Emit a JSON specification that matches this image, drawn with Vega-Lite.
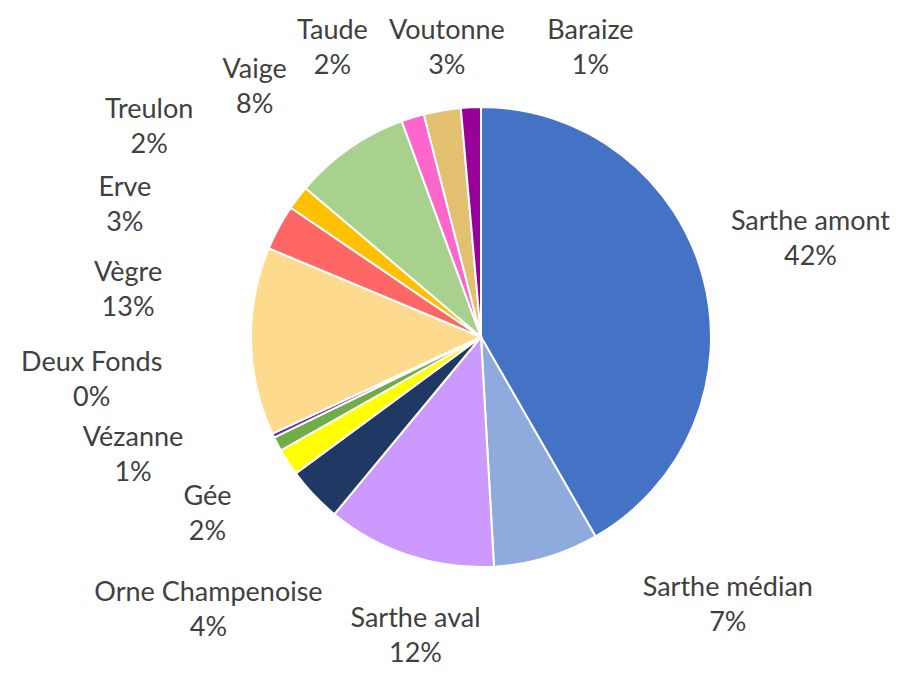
{
  "$schema": "https://vega.github.io/schema/vega-lite/v6.json",
  "width": 846,
  "height": 674,
  "autosize": {"type": "none"},
  "padding": {"left": 58, "top": 0, "right": 0, "bottom": 23},
  "background": "white",
  "view": {"stroke": null},
  "data": {
    "values": [
      {"name": "Sarthe amont", "value": 0.417},
      {"name": "Sarthe médian", "value": 0.074},
      {"name": "Sarthe aval", "value": 0.119},
      {"name": "Orne Champenoise", "value": 0.039},
      {"name": "Gée", "value": 0.019},
      {"name": "Vézanne", "value": 0.010},
      {"name": "Deux Fonds", "value": 0.003},
      {"name": "Vègre", "value": 0.132},
      {"name": "Erve", "value": 0.032},
      {"name": "Treulon", "value": 0.017},
      {"name": "Vaige", "value": 0.082},
      {"name": "Taude", "value": 0.016},
      {"name": "Voutonne", "value": 0.026},
      {"name": "Baraize", "value": 0.014}
    ]
  },
  "transform": [
    {"window": [{"op": "row_number", "as": "order"}]},
    {"stack": "value", "groupby": [], "sort": [{"field": "order", "order": "ascending"}], "as": ["v0", "v1"]},
    {"calculate": "(datum.v0 + datum.v1) / 2", "as": "mid"},
    {"calculate": "datum.name + '\\n' + format(datum.value, '.0%')", "as": "label"}
  ],
  "layer": [
    {
      "mark": {"type": "arc", "radius": 230, "stroke": "white", "strokeWidth": 2},
      "encoding": {
        "theta": {"field": "v0", "type": "quantitative", "scale": {"domain": [0, 1]}},
        "theta2": {"field": "v1"},
        "color": {
          "field": "name",
          "type": "nominal",
          "legend": null,
          "scale": {
            "domain": ["Sarthe amont", "Sarthe médian", "Sarthe aval", "Orne Champenoise", "Gée", "Vézanne", "Deux Fonds", "Vègre", "Erve", "Treulon", "Vaige", "Taude", "Voutonne", "Baraize"],
            "range": ["#4472C4", "#8FAADC", "#CC99FF", "#203864", "#FFFF00", "#70AD47", "#7030A0", "#FDDA8E", "#FF6666", "#FFC000", "#A9D18E", "#FF66CC", "#E2C070", "#990099"]
          }
        }
      }
    },
    {"transform": [{"filter": "datum.name === 'Sarthe amont'"}], "mark": {"type": "text", "radius": 341, "dy": -27, "font": "Lato", "fontSize": 27, "lineHeight": 35, "lineBreak": "\n", "color": "#404040"}, "encoding": {"theta": {"field": "mid", "type": "quantitative"}, "text": {"field": "label"}}},
    {"transform": [{"filter": "datum.name === 'Sarthe médian'"}], "mark": {"type": "text", "radius": 280, "dx": 167, "dy": -17, "font": "Lato", "fontSize": 27, "lineHeight": 35, "lineBreak": "\n", "color": "#404040"}, "encoding": {"theta": {"field": "mid", "type": "quantitative"}, "text": {"field": "label"}}},
    {"transform": [{"filter": "datum.name === 'Sarthe aval'"}], "mark": {"type": "text", "radius": 306, "dx": 30, "dy": -9, "font": "Lato", "fontSize": 27, "lineHeight": 35, "lineBreak": "\n", "color": "#404040"}, "encoding": {"theta": {"field": "mid", "type": "quantitative"}, "text": {"field": "label"}}},
    {"transform": [{"filter": "datum.name === 'Orne Champenoise'"}], "mark": {"type": "text", "radius": 386, "dx": 8, "dy": -9, "font": "Lato", "fontSize": 27, "lineHeight": 35, "lineBreak": "\n", "color": "#404040"}, "encoding": {"theta": {"field": "mid", "type": "quantitative"}, "text": {"field": "label"}}},
    {"transform": [{"filter": "datum.name === 'Gée'"}], "mark": {"type": "text", "radius": 326, "dy": -17, "font": "Lato", "fontSize": 27, "lineHeight": 35, "lineBreak": "\n", "color": "#404040"}, "encoding": {"theta": {"field": "mid", "type": "quantitative"}, "text": {"field": "label"}}},
    {"transform": [{"filter": "datum.name === 'Vézanne'"}], "mark": {"type": "text", "radius": 367, "dx": -23, "dy": -70, "font": "Lato", "fontSize": 27, "lineHeight": 35, "lineBreak": "\n", "color": "#404040"}, "encoding": {"theta": {"field": "mid", "type": "quantitative"}, "text": {"field": "label"}}},
    {"transform": [{"filter": "datum.name === 'Deux Fonds'"}], "mark": {"type": "text", "radius": 391, "dx": -36, "dy": -142, "font": "Lato", "fontSize": 27, "lineHeight": 35, "lineBreak": "\n", "color": "#404040"}, "encoding": {"theta": {"field": "mid", "type": "quantitative"}, "text": {"field": "label"}}},
    {"transform": [{"filter": "datum.name === 'Vègre'"}], "mark": {"type": "text", "radius": 356, "dx": 3, "dy": -71, "font": "Lato", "fontSize": 27, "lineHeight": 35, "lineBreak": "\n", "color": "#404040"}, "encoding": {"theta": {"field": "mid", "type": "quantitative"}, "text": {"field": "label"}}},
    {"transform": [{"filter": "datum.name === 'Erve'"}], "mark": {"type": "text", "radius": 380, "dx": -22, "dy": 32, "font": "Lato", "fontSize": 27, "lineHeight": 35, "lineBreak": "\n", "color": "#404040"}, "encoding": {"theta": {"field": "mid", "type": "quantitative"}, "text": {"field": "label"}}},
    {"transform": [{"filter": "datum.name === 'Treulon'"}], "mark": {"type": "text", "radius": 393, "dx": -19, "dy": 11, "font": "Lato", "fontSize": 27, "lineHeight": 35, "lineBreak": "\n", "color": "#404040"}, "encoding": {"theta": {"field": "mid", "type": "quantitative"}, "text": {"field": "label"}}},
    {"transform": [{"filter": "datum.name === 'Vaige'"}], "mark": {"type": "text", "radius": 336, "dx": -34, "dy": 9, "font": "Lato", "fontSize": 27, "lineHeight": 35, "lineBreak": "\n", "color": "#404040"}, "encoding": {"theta": {"field": "mid", "type": "quantitative"}, "text": {"field": "label"}}},
    {"transform": [{"filter": "datum.name === 'Taude'"}], "mark": {"type": "text", "radius": 325, "dx": -52, "dy": 4, "font": "Lato", "fontSize": 27, "lineHeight": 35, "lineBreak": "\n", "color": "#404040"}, "encoding": {"theta": {"field": "mid", "type": "quantitative"}, "text": {"field": "label"}}},
    {"transform": [{"filter": "datum.name === 'Voutonne'"}], "mark": {"type": "text", "radius": 291, "dx": 15, "dy": -19, "font": "Lato", "fontSize": 27, "lineHeight": 35, "lineBreak": "\n", "color": "#404040"}, "encoding": {"theta": {"field": "mid", "type": "quantitative"}, "text": {"field": "label"}}},
    {"transform": [{"filter": "datum.name === 'Baraize'"}], "mark": {"type": "text", "radius": 309, "dx": 123, "dy": 3, "font": "Lato", "fontSize": 27, "lineHeight": 35, "lineBreak": "\n", "color": "#404040"}, "encoding": {"theta": {"field": "mid", "type": "quantitative"}, "text": {"field": "label"}}}
  ]
}
